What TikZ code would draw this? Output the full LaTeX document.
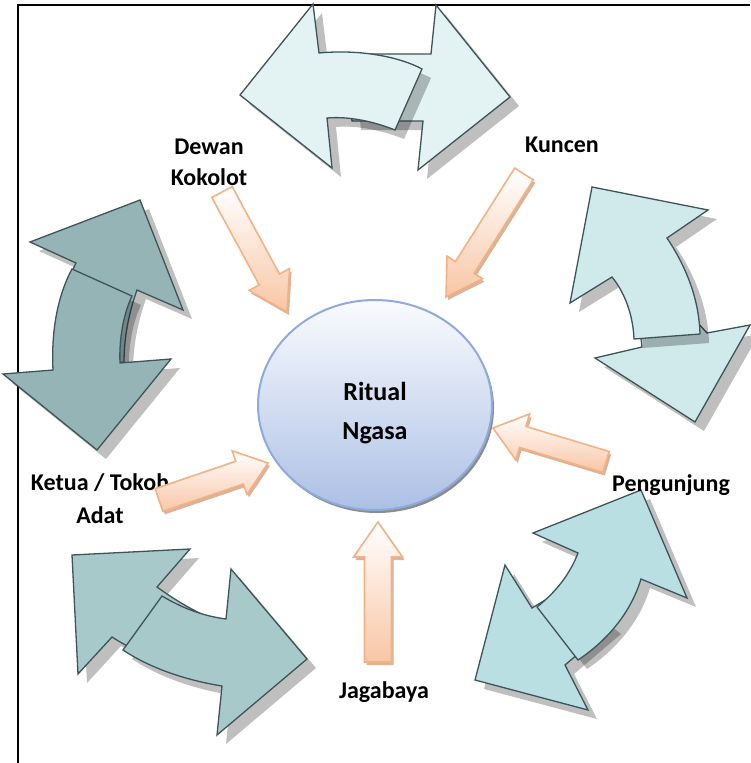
\documentclass[tikz,border=0pt]{standalone}
\usepackage{fontspec}
\setmainfont{Carlito}
\usetikzlibrary{calc,shapes.geometric,shadows}
\definecolor{edgecol}{RGB}{62,84,86}
\definecolor{topcol}{RGB}{227,243,243}
\definecolor{trcol}{RGB}{208,234,236}
\definecolor{leftcol}{RGB}{149,180,181}
\definecolor{blcol}{RGB}{168,201,202}
\definecolor{brcol}{RGB}{185,223,227}
\definecolor{oedge}{RGB}{244,177,131}
\definecolor{ofill}{RGB}{248,198,165}
\definecolor{oshad}{RGB}{205,160,130}
\definecolor{ctop}{RGB}{250,251,254}
\definecolor{cbot}{RGB}{172,192,229}
\definecolor{cedge}{RGB}{143,170,220}
\newcommand\piece[2]{%
  \fill[bigshadow, shift={(9,9)}] #2;
  \filldraw[bigarrow, fill=#1] #2;}
\newcommand\apath[5]{($(#1)!#4!90:(#2)$) -- ($(#3)!#4!90:(#2)$) -- ($(#3)!#5!90:(#2)$) -- (#2) -- ($(#3)!#5!-90:(#2)$) -- ($(#3)!#4!-90:(#2)$) -- ($(#1)!#4!-90:(#2)$) -- cycle}
\newcommand\orangearrow[5]{%
  \coordinate (#1n) at ($(#2)!#5!(#1)$);
  \coordinate (#1s) at ($(#1)+(2,3)$);
  \coordinate (#2s) at ($(#2)+(2,3)$);
  \coordinate (#1ns) at ($(#1n)+(2,3)$);
  \fill[oshadow] \apath{#1s}{#2s}{#1ns}{#3}{#4};
  \path[oarrow] \apath{#1}{#2}{#1n}{#3}{#4};}
\tikzset{
  bigshadow/.style={fill=black, fill opacity=0.25},
  bigarrow/.style={draw=edgecol, line width=1.3pt, line join=miter},
  oshadow/.style={fill=oshad, fill opacity=0.8},
  oarrow/.style={draw=oedge, line width=1.6pt, top color=white, bottom color=ofill},
  lab/.style={font=\bfseries\fontsize{24}{31}\selectfont, align=center, inner sep=0pt},
}
\begin{document}
\begin{tikzpicture}[x=1pt,y=-1pt]
\useasboundingbox (0,0) rectangle (750,763);
\fill[white] (0,0) rectangle (750,763);
% frame
\draw[line width=1.6pt] (18,763) -- (18,5) -- (750,5);
% top pair
\piece{topcol}{(345,54) -- (431,54) -- (436,5) -- (510,97) -- (418,170) -- (423,121) -- (352,121) -- cycle}
\piece{topcol}{(240,95) -- (313,4) -- (319,53) .. controls (360,49) and (400,57) .. (422,69) -- (395,130) .. controls (375,122) and (350,116) .. (327,118) -- (332,168) -- cycle}
% top-right pair
\piece{trcol}{(640,330) -- (697,322) -- (707,333) -- (750,325) -- (695,422) -- (595,358) -- (642,347) -- cycle}
\piece{trcol}{(592,187) -- (708,210) -- (667,238) .. controls (687,268) and (699,300) .. (700,334) -- (634,339) .. controls (633,315) and (625,293) .. (612,277) -- (570,303) -- cycle}
% left pair
\piece{leftcol}{(140,200) -- (183,310) -- (137,290) .. controls (128,315) and (124,340) .. (124,362) -- (56,368) .. controls (55,330) and (62,290) .. (76,263) -- (30,242) -- cycle}
\piece{leftcol}{(72,269) -- (132,296) .. controls (123,315) and (119,340) .. (120,363) -- (171,359) -- (97,450) -- (3,374) -- (53,370) .. controls (51,330) and (58,295) .. (72,269) -- cycle}
% bottom-left pair
\piece{blcol}{(72,555) -- (190,549) -- (157,587) .. controls (175,600) and (195,612) .. (215,620) -- (210,675) .. controls (170,665) and (140,655) .. (112,637) -- (78,674) -- cycle}
\piece{blcol}{(162,596) .. controls (182,608) and (203,616) .. (226,619) -- (231,569) -- (307,659) -- (217,735) -- (222,686) .. controls (185,680) and (150,668) .. (123,650) -- cycle}
% bottom-right pair
\piece{brcol}{(475,680) -- (505,565) -- (532,608) -- (565,588) -- (612,625) -- (565,665) -- (588,710) -- cycle}
\piece{brcol}{(537,607) .. controls (556,592) and (570,574) .. (578,553) -- (533,533) -- (641,490) -- (687,598) -- (641,579) .. controls (630,615) and (605,642) .. (578,660) -- cycle}
% centre
\node[ellipse, minimum width=234pt, minimum height=210pt, draw=cedge, line width=2pt,
      top color=ctop, bottom color=cbot,
      drop shadow={shadow xshift=2pt, shadow yshift=-3pt, fill=black, opacity=0.45}] (ritual) at (375,405) {};
\node[font=\bfseries\fontsize{26}{39}\selectfont, align=center, inner sep=0pt] (rtext) at ($(ritual)+(0,8)$) {Ritual\\Ngasa};
% labels
\node[lab] (dewan) at (209,162) {Dewan\\Kokolot};
\node[lab] (kuncen) at (562,145) {Kuncen};
\node[lab, font=\bfseries\fontsize{24}{33}\selectfont] (ketua) at (100,499) {Ketua / Tokoh\\Adat};
\node[lab] (peng) at (671,485) {Pengunjung};
\node[lab] (jaga) at (384,692) {Jagabaya};
% orange arrows
\coordinate (dT) at (222,192); \coordinate (dP) at (287,312);
\coordinate (kT) at (524,174); \coordinate (kP) at (446,297);
\coordinate (tT) at (159,500); \coordinate (tP) at (268,463);
\coordinate (pT) at (606,462); \coordinate (pP) at (493,428);
\coordinate (jT) at (378,662); \coordinate (jP) at (378,522);
\orangearrow{dT}{dP}{11.5pt}{23pt}{37pt}
\orangearrow{kT}{kP}{11pt}{21pt}{35pt}
\orangearrow{tT}{tP}{12pt}{23pt}{30pt}
\orangearrow{pT}{pP}{11pt}{24pt}{31pt}
\orangearrow{jT}{jP}{13.5pt}{24.5pt}{35pt}
\end{tikzpicture}
\end{document}
